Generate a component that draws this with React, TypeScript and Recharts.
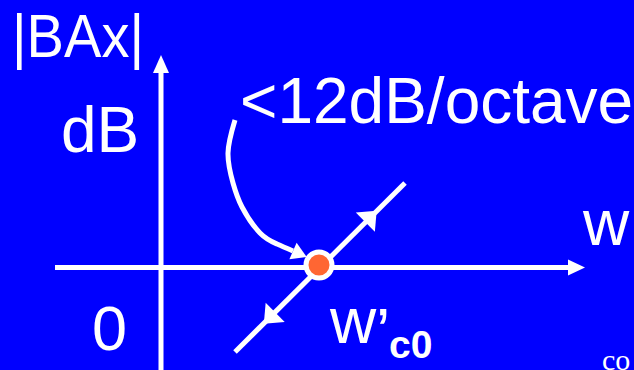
import { ComposedChart, XAxis, YAxis, Line, Scatter, Customized } from "recharts";

// chart units: 1 unit = 10px, origin where the two axes cross
const H_AXIS = [
    { x: -10.6, y: 0 },
    { x: 40.7, y: 0 },
];
const V_AXIS = [
    { x: 0, y: -11 },
    { x: 0, y: 19.45 },
];
const SLOPE_LINE = [
    { x: 7.4, y: -8.45 },
    { x: 24.4, y: 8.45 },
];
const CORNER = [{ x: 15.8, y: 0.25 }];
const DIAG_ARROW_AT = [
    { x: 21, y: 5.1, dir: 1 },
    { x: 10.85, y: -5.05, dir: -1 },
];
const CURVE = [
    { x: 7.4, y: 14.75 },
    { x: 6.7, y: 11.45 },
    { x: 7.2, y: 8.45 },
    { x: 8.1, y: 6.05 },
    { x: 9.9, y: 3.45 },
    { x: 11.6, y: 2.35 },
    { x: 13.2, y: 1.65 },
];

const BLUE = "#0000FF";
const ORANGE = "#FF6633";
const FONT = "'Liberation Sans', Arial, sans-serif";

const tip = (s: { x: number; y: number }[]) => {
    const a = s[s.length - 2];
    const b = s[s.length - 1];
    return [{ x: b.x, y: b.y, dx: b.x - a.x, dy: b.y - a.y }];
};

const diagArrows = DIAG_ARROW_AT.map((p) => ({
    x: p.x,
    y: p.y,
    dx: p.dir * (SLOPE_LINE[1].x - SLOPE_LINE[0].x),
    dy: p.dir * (SLOPE_LINE[1].y - SLOPE_LINE[0].y),
}));

const Arrow = (props: any) => {
    const { cx, cy, payload, len, half, center } = props;
    const ang = Math.atan2(-payload.dy, payload.dx);
    const ux = Math.cos(ang);
    const uy = Math.sin(ang);
    const bx = center ? cx - (ux * len) / 2 : cx;
    const by = center ? cy - (uy * len) / 2 : cy;
    const pts = [
        [bx + ux * len, by + uy * len],
        [bx - uy * half, by + ux * half],
        [bx + uy * half, by - ux * half],
    ];
    return <polygon points={pts.map((p) => p.join(",")).join(" ")} fill="#fff" />;
};

const Labels = () => (
    <g fill="#fff" fontFamily={FONT}>
        <text x={12} y={57} fontSize={62} textLength={132} lengthAdjust="spacingAndGlyphs">|BAx|</text>
        <text x={61} y={152} fontSize={64}>dB</text>
        <text x={92} y={350} fontSize={63}>0</text>
        <text x={240} y={123} fontSize={64}>&lt;12dB/octave</text>
        <text x={583} y={245} fontSize={64}>w</text>
        <text x={330} y={343} fontSize={64}>w</text>
        <text x={376} y={354} fontSize={64}>’</text>
        <text x={389} y={358} fontSize={39} fontWeight="bold">c0</text>
        <text x={602} y={370} fontSize={30} fontFamily="'Liberation Serif', 'Times New Roman', serif">co</text>
    </g>
);

export default function App() {
    const line = { stroke: "#fff", strokeWidth: 5, dot: false, activeDot: false, isAnimationActive: false, dataKey: "y" } as const;
    return (
        <div style={{ position: "absolute", left: 0, top: 0, width: 634, height: 370, background: BLUE }}>
            <ComposedChart width={634} height={370} margin={{ top: 0, right: 0, bottom: 0, left: 0 }}>
                <XAxis type="number" dataKey="x" domain={[-16.1, 47.3]} allowDataOverflow hide />
                <YAxis type="number" dataKey="y" domain={[-10.25, 26.75]} allowDataOverflow hide />
                <Line {...line} data={H_AXIS} type="linear" />
                <Line {...line} data={V_AXIS} type="linear" />
                <Line {...line} data={SLOPE_LINE} type="linear" />
                <Line {...line} data={CURVE} type="natural" />
                <Scatter data={tip(H_AXIS)} isAnimationActive={false} shape={(p: any) => <Arrow {...p} len={17} half={8} />} />
                <Scatter data={tip(V_AXIS)} isAnimationActive={false} shape={(p: any) => <Arrow {...p} len={18} half={8} />} />
                <Scatter data={tip(CURVE)} isAnimationActive={false} shape={(p: any) => <Arrow {...p} len={15} half={9} />} />
                <Scatter data={diagArrows} isAnimationActive={false} shape={(p: any) => <Arrow {...p} len={16} half={13.5} center />} />
                <Scatter
                    data={CORNER}
                    isAnimationActive={false}
                    shape={(p: any) => <circle cx={p.cx} cy={p.cy} r={13} fill={ORANGE} stroke="#fff" strokeWidth={5} />}
                />
                <Customized component={Labels} />
            </ComposedChart>
        </div>
    );
}
